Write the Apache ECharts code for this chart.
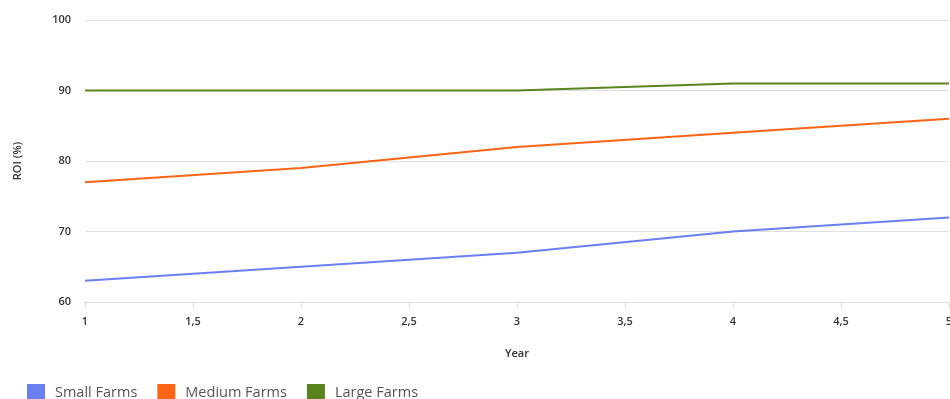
<!DOCTYPE html>
<html>
<head>
<meta charset="utf-8">
<script src="https://cdn.jsdelivr.net/npm/echarts@6/dist/echarts.min.js"></script>
<style>
html,body{margin:0;padding:0;background:#fff;}
#c{width:950px;height:399px;}
</style>
</head>
<body>
<div id="c"></div>
<script>
const years = [1, 2, 3, 4, 5];
const smallFarms = [63, 65, 67, 70, 72];
const mediumFarms = [77, 79, 82, 84, 86];
const largeFarms = [90, 90, 90, 91, 91];
const seriesNames = ['Small Farms', 'Medium Farms', 'Large Farms'];
const colors = ['#6a7ff2', '#fa6414', '#5a841e'];

const font = '"Open Sans", "Noto Sans", sans-serif';
function pairs(vals){ return years.map((y,i)=>[y, vals[i]]); }

const chart = echarts.init(document.getElementById('c'), null, {renderer:'canvas'});
chart.setOption({
  animation: false,
  color: colors,
  textStyle: {fontFamily: font},
  grid: {left: 85, right: 1, top: 20, bottom: 97, containLabel: false, outerBoundsMode: 'none'},
  legend: {
    left: 22, top: 379,
    itemWidth: 18, itemHeight: 18, itemGap: 20,
    icon: 'rect',
    textStyle: {fontSize: 14.5, color: '#555', fontFamily: font, padding: [0,0,0,5]},
    data: seriesNames
  },
  xAxis: {
    type: 'value', min: 1, max: 5, interval: 0.5,
    name: 'Year', nameLocation: 'middle', nameGap: 46,
    nameTextStyle: {fontSize: 11, fontWeight: 600, color: '#333', fontFamily: font},
    axisLine: {show: true, lineStyle: {color: '#dcdcdc'}},
    axisTick: {show: true, length: 6, lineStyle: {color: '#dcdcdc'}},
    axisLabel: {fontSize: 11, fontWeight: 600, color: '#333', margin: 14, fontFamily: font,
      formatter: v => String(v).replace('.', ',')},
    splitLine: {show: false}
  },
  yAxis: {
    type: 'value', min: 60, max: 100, interval: 10,
    name: 'ROI (%)', nameLocation: 'middle', nameGap: 62, nameRotate: 90,
    nameTextStyle: {fontSize: 11, fontWeight: 600, color: '#333', fontFamily: font},
    axisLine: {show: false},
    axisTick: {show: false},
    axisLabel: {fontSize: 11, fontWeight: 600, color: '#333', margin: 14, fontFamily: font},
    splitLine: {lineStyle: {color: '#e0e0e0'}}
  },
  series: [
    {name: seriesNames[0], type: 'line', data: pairs(smallFarms), showSymbol: false, symbol: 'none', lineStyle: {width: 2}},
    {name: seriesNames[1], type: 'line', data: pairs(mediumFarms), showSymbol: false, symbol: 'none', lineStyle: {width: 2}},
    {name: seriesNames[2], type: 'line', data: pairs(largeFarms), showSymbol: false, symbol: 'none', lineStyle: {width: 2}}
  ]
});
</script>
</body>
</html>
